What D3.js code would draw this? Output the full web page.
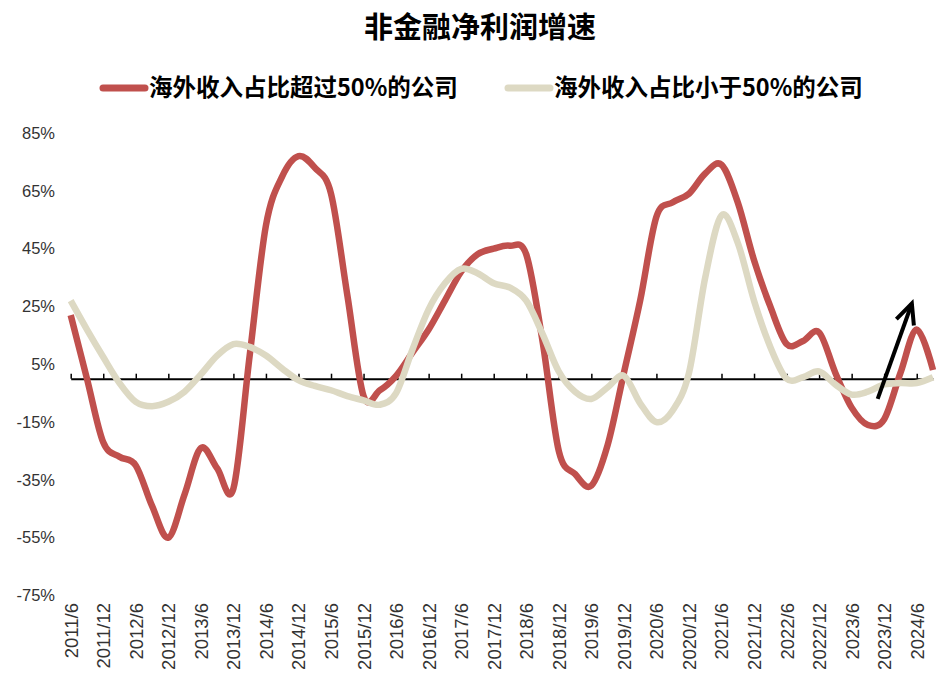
<!DOCTYPE html>
<html>
<head>
<meta charset="utf-8">
<script src="https://cdn.jsdelivr.net/npm/d3@7"></script>
<style>
  html, body { margin: 0; padding: 0; background: #fff; }
  svg { display: block; }
</style>
</head>
<body>
<svg id="chart" width="938" height="675"></svg>
<script>
// ---- data ----
const title = "非金融净利润增速";
const seriesNames = ["海外收入占比超过50%的公司", "海外收入占比小于50%的公司"];
const categories = [
  "2011/6","2011/9","2011/12","2012/3","2012/6","2012/9","2012/12","2013/3","2013/6","2013/9","2013/12",
  "2014/3","2014/6","2014/9","2014/12","2015/3","2015/6","2015/9","2015/12","2016/3","2016/6","2016/9","2016/12",
  "2017/3","2017/6","2017/9","2017/12","2018/3","2018/6","2018/9","2018/12","2019/3","2019/6","2019/9","2019/12",
  "2020/3","2020/6","2020/9","2020/12","2021/3","2021/6","2021/9","2021/12","2022/3","2022/6","2022/9","2022/12",
  "2023/3","2023/6","2023/9","2023/12","2024/3","2024/6","2024/9"
];
const overseasAbove50 = [
  22, 0, -22, -27, -30, -44, -55, -40, -24, -31, -38,
  8, 53, 70, 77, 73, 64, 29, -6, -4, 1, 9, 17,
  27, 37, 43, 45, 46, 43, 13, -25, -33, -37, -23, 2,
  27, 56, 61, 64, 71, 74, 61, 41, 25, 12, 13, 16,
  2, -10, -16, -14, 2, 17, 3
];
const overseasBelow50 = [
  27, 17, 7.5, -1.5, -8, -9.5, -8, -4.5, 1.5, 8, 12,
  11, 8, 3.5, -0.5, -2.5, -4, -6, -7.5, -9, -5, 10, 24,
  33, 38, 36.5, 33, 31.5, 27, 15.5, 2.5, -4.5, -7, -3, 1,
  -8.5, -15, -11, 2, 35, 56.5, 47, 27, 11, 0, 0.5, 2.5,
  -2, -5.5, -4.5, -2, -1.5, -1.5, 0.5
];
const yTicks = [-75, -55, -35, -15, 5, 25, 45, 65, 85];
// annotation arrow (in data units: category index, percent)
const arrowStart = [49.6, -7];
const arrowEnd = [51.7, 26];

// ---- drawing ----
const colors = ["#C0504D", "#DDD9C3"];
const svg = d3.select("#chart");

const x = d3.scaleLinear().domain([0, categories.length - 1]).range([70.7, 933]);
const y = d3.scaleLinear().domain([-75, 85]).range([595.5, 133]);

// title
svg.append("text")
  .attr("x", 480).attr("y", 38)
  .attr("text-anchor", "middle")
  .attr("font-family", "'Noto Sans CJK SC', sans-serif")
  .attr("font-weight", 700)
  .attr("font-size", 29)
  .attr("fill", "#000")
  .text(title);

// legend
const legendItems = [
  { name: seriesNames[0], color: colors[0], x0: 103 },
  { name: seriesNames[1], color: colors[1], x0: 508 }
];
const lg = svg.append("g");
legendItems.forEach(it => {
  lg.append("line")
    .attr("x1", it.x0).attr("x2", it.x0 + 42)
    .attr("y1", 88).attr("y2", 88)
    .attr("stroke", it.color).attr("stroke-width", 7)
    .attr("stroke-linecap", "round");
  lg.append("text")
    .attr("x", it.x0 + 46).attr("y", 96)
    .attr("font-family", "'Noto Sans CJK SC', sans-serif")
    .attr("font-weight", 700)
    .attr("font-size", 23.5)
    .attr("fill", "#000")
    .text(it.name);
});

// y axis labels
const yAxis = d3.axisLeft(y).tickValues(yTicks).tickSize(0).tickPadding(0)
  .tickFormat(d => d + "%");
const yg = svg.append("g").attr("transform", "translate(55,0)").call(yAxis);
yg.select(".domain").remove();
yg.selectAll("text")
  .attr("font-family", "'Liberation Sans', Arial, sans-serif")
  .attr("font-size", 16.5)
  .attr("fill", "#333");

// x axis labels (rotated)
const labelIdx = categories.map((c, i) => i).filter(i => i % 2 === 0);
const xAxisLabels = d3.axisBottom(x).tickValues(labelIdx).tickSize(0)
  .tickFormat(i => categories[i]);
const xl = svg.append("g").attr("transform", "translate(0,596)").call(xAxisLabels);
xl.select(".domain").remove();
xl.selectAll("text")
  .attr("transform", "rotate(-90)")
  .attr("text-anchor", "end")
  .attr("x", -7).attr("y", 0).attr("dy", "0.35em")
  .attr("font-family", "'Liberation Sans', Arial, sans-serif")
  .attr("font-size", 18.5)
  .attr("fill", "#333");

// zero axis line with upward ticks
const xAxisLine = d3.axisTop(x).tickValues(labelIdx).tickSize(5).tickSizeOuter(0)
  .tickFormat("");
const xa = svg.append("g").attr("transform", `translate(0,${y(0)})`).call(xAxisLine);
xa.select(".domain").attr("stroke", "#000").attr("stroke-width", 2);
xa.selectAll(".tick line").attr("stroke", "#000").attr("stroke-width", 1.5);

// lines
const line = d3.line()
  .x((d, i) => x(i))
  .y(d => y(d))
  .curve(d3.curveCardinal.tension(0));

[overseasAbove50, overseasBelow50].forEach((vals, k) => {
  svg.append("path")
    .datum(vals)
    .attr("d", line)
    .attr("fill", "none")
    .attr("stroke", colors[k])
    .attr("stroke-width", 6.5)
    .attr("stroke-linejoin", "round")
    .attr("stroke-linecap", "butt");
});

// arrow annotation
const p0 = [x(arrowStart[0]), y(arrowStart[1])];
const p1 = [x(arrowEnd[0]), y(arrowEnd[1])];
const ang = Math.atan2(p0[1] - p1[1], p0[0] - p1[0]);
const headLen = 22, headAng = 25 * Math.PI / 180;
const a1 = [p1[0] + headLen * Math.cos(ang + headAng), p1[1] + headLen * Math.sin(ang + headAng)];
const a2 = [p1[0] + headLen * Math.cos(ang - headAng), p1[1] + headLen * Math.sin(ang - headAng)];
const ag = svg.append("g").attr("stroke", "#000").attr("stroke-width", 4).attr("fill", "none");
ag.append("line").attr("x1", p0[0]).attr("y1", p0[1]).attr("x2", p1[0]).attr("y2", p1[1]);
ag.append("path")
  .attr("d", `M${a1[0]},${a1[1]}L${p1[0]},${p1[1]}L${a2[0]},${a2[1]}`)
  .attr("stroke-linejoin", "miter");
</script>
</body>
</html>
